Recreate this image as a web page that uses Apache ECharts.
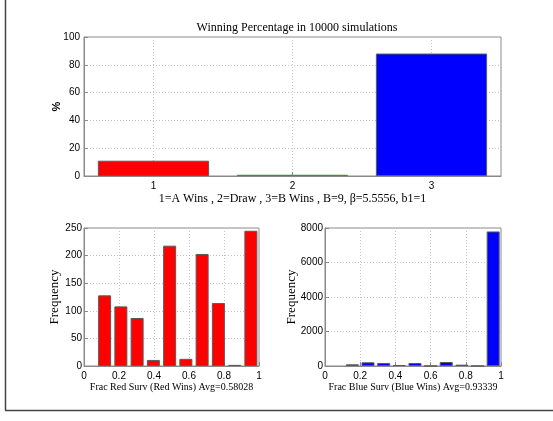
<!DOCTYPE html>
<html>
<head>
<meta charset="utf-8">
<script src="https://cdn.jsdelivr.net/npm/echarts@6/dist/echarts.min.js"></script>
<style>
  html, body { margin: 0; padding: 0; background: #fff; }
  #chart { width: 553px; height: 421px; }
</style>
</head>
<body>
<div id="chart"></div>
<script>
// Outcome shares (percent of runs)
const outcomeLabels = ['1', '2', '3'];
const outcomePercent = [11.0, 0.9, 88.1];
const outcomeColors = ['#ff0000', '#3d913d', '#0000ff'];

// Surviving fraction histogram, red wins (bin centres and counts)
const redBinCenters = [0.1179, 0.2107, 0.3036, 0.3964, 0.4893, 0.5821, 0.6750, 0.7679, 0.8607, 0.9536];
const redCounts = [128, 108, 87, 11, 218, 13, 203, 114, 2, 245];

// Surviving fraction histogram, blue wins
const blueBinCenters = [0.1556, 0.2444, 0.3333, 0.4222, 0.5111, 0.6000, 0.6889, 0.7778, 0.8667, 0.9556];
const blueCounts = [98, 214, 174, 58, 174, 0, 232, 77, 0, 7800];

const fracTicks = [0, 0.2, 0.4, 0.6, 0.8, 1];

const SERIF = '"Liberation Serif", "DejaVu Serif", serif';
const SANS = '"Liberation Sans", Arial, sans-serif';
const AXIS_GREY = '#8a8a8a';
const GRID_GREY = '#c4c4c4';

function pairs(xs, ys) { return xs.map((x, i) => [x, ys[i]]); }

const axisLineStyle = { show: true, lineStyle: { color: AXIS_GREY, width: 1 } };
const tickStyle = { show: true, inside: true, length: 4, lineStyle: { color: AXIS_GREY } };
const gridLine = { show: true, lineStyle: { color: GRID_GREY, type: [1, 2], width: 1 } };
const tickLabel = { color: '#000', fontFamily: SANS, fontSize: 10, margin: 5, formatter: v => String(v) };

function fracAxis(gridIndex, name) {
  return {
    type: 'value', gridIndex: gridIndex, min: 0, max: 1, interval: 0.2,
    axisLine: axisLineStyle, axisTick: tickStyle, splitLine: gridLine,
    axisLabel: Object.assign({}, tickLabel, {
      formatter: v => (fracTicks.some(t => Math.abs(t - v) < 1e-9) ? String(+v.toFixed(1)) : '')
    }),
    name: name, nameLocation: 'middle', nameGap: 16, nameMoveOverlap: false,
    nameTextStyle: { fontFamily: SERIF, fontSize: 10, color: '#000' }
  };
}

function freqAxis(gridIndex, max, interval, gap) {
  return {
    type: 'value', gridIndex: gridIndex, min: 0, max: max, interval: interval,
    axisLine: axisLineStyle, axisTick: tickStyle, splitLine: gridLine,
    axisLabel: Object.assign({}, tickLabel, { margin: 2 }),
    name: 'Frequency', nameLocation: 'middle', nameGap: gap, nameRotate: 90, nameMoveOverlap: false,
    nameTextStyle: { fontFamily: SERIF, fontSize: 13, color: '#000' }
  };
}

const barBorder = { borderColor: '#5a5a5a', borderWidth: 1 };

const option = {
  animation: false,
  backgroundColor: '#fff',
  title: {
    text: 'Winning Percentage in 10000 simulations',
    left: 292, top: 17, textAlign: 'center',
    textStyle: { fontFamily: SERIF, fontSize: 12, fontWeight: 'normal', color: '#000' }
  },
  grid: [
    { left: 84, top: 37, width: 417, height: 139, show: true, borderColor: AXIS_GREY, borderWidth: 1, backgroundColor: 'transparent' },
    { left: 84, top: 228, width: 175, height: 138, show: true, borderColor: AXIS_GREY, borderWidth: 1, backgroundColor: 'transparent' },
    { left: 325, top: 228, width: 176, height: 138, show: true, borderColor: AXIS_GREY, borderWidth: 1, backgroundColor: 'transparent' }
  ],
  xAxis: [
    {
      type: 'category', gridIndex: 0, data: outcomeLabels,
      axisLine: axisLineStyle,
      axisTick: Object.assign({}, tickStyle, { alignWithLabel: true }),
      splitLine: Object.assign({}, gridLine, { alignWithLabel: true }),
      axisLabel: tickLabel,
      name: '1=A Wins , 2=Draw , 3=B Wins , B=9, \u03b2=5.5556, b1=1',
      nameLocation: 'middle', nameGap: 17, nameMoveOverlap: false,
      nameTextStyle: { fontFamily: SERIF, fontSize: 12, color: '#000' }
    },
    fracAxis(1, 'Frac Red Surv (Red Wins) Avg=0.58028'),
    fracAxis(2, 'Frac Blue Surv (Blue Wins) Avg=0.93339')
  ],
  yAxis: [
    {
      type: 'value', gridIndex: 0, min: 0, max: 100, interval: 20,
      axisLine: axisLineStyle, axisTick: tickStyle, splitLine: gridLine,
      axisLabel: Object.assign({}, tickLabel, { margin: 4 }),
      name: '%', nameLocation: 'middle', nameGap: 22, nameRotate: 90, nameMoveOverlap: false,
      nameTextStyle: { fontFamily: SANS, fontSize: 11, fontWeight: 'bold', color: '#000' }
    },
    freqAxis(1, 250, 50, 23),
    freqAxis(2, 8000, 2000, 27)
  ],
  series: [
    {
      type: 'bar', xAxisIndex: 0, yAxisIndex: 0, barWidth: '80%',
      data: outcomePercent.map((v, i) => ({
        value: v,
        itemStyle: { color: outcomeColors[i], borderColor: i === 1 ? outcomeColors[i] : '#5a5a5a', borderWidth: 1 }
      }))
    },
    {
      type: 'bar', xAxisIndex: 1, yAxisIndex: 1, barWidth: 13,
      itemStyle: Object.assign({ color: '#ff0000' }, barBorder),
      data: pairs(redBinCenters, redCounts)
    },
    {
      type: 'bar', xAxisIndex: 2, yAxisIndex: 2, barWidth: 13,
      itemStyle: Object.assign({ color: '#0000ff' }, barBorder),
      data: pairs(blueBinCenters, blueCounts)
    }
  ],
  graphic: [
    { type: 'line', shape: { x1: 5.5, y1: 0, x2: 5.5, y2: 410.5 }, style: { stroke: '#444', lineWidth: 1.5 } },
    { type: 'line', shape: { x1: 5, y1: 410.5, x2: 553, y2: 410.5 }, style: { stroke: '#444', lineWidth: 1.5 } }
  ]
};

const chart = echarts.init(document.getElementById('chart'), null, { renderer: 'canvas' });
chart.setOption(option);
</script>
</body>
</html>
